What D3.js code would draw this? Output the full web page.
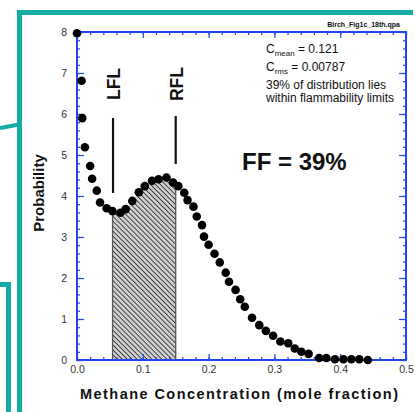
<!DOCTYPE html>
<html>
<head>
<meta charset="utf-8">
<script src="https://cdn.jsdelivr.net/npm/d3@7"></script>
<style>
  body { margin: 0; background: #fff; }
  svg { display: block; font-family: "Liberation Sans", Arial, Helvetica, sans-serif; }
</style>
</head>
<body>
<div id="chart"></div>
<script>
// methane concentration (mole fraction) vs probability
const concentration = [0.000, 0.007, 0.008, 0.012, 0.020, 0.023, 0.030, 0.035, 0.045, 0.054,
    0.066, 0.074, 0.084, 0.094, 0.103, 0.114, 0.124, 0.136, 0.146, 0.154,
    0.163, 0.168, 0.177, 0.182, 0.190, 0.193, 0.200, 0.209, 0.217, 0.226,
    0.231, 0.241, 0.248, 0.255, 0.266, 0.277, 0.287, 0.298, 0.309, 0.321,
    0.331, 0.341, 0.352, 0.368, 0.379, 0.392, 0.405, 0.417, 0.429, 0.442];
const probability = [7.97, 6.81, 5.90, 5.19, 4.73, 4.42, 4.13, 3.84, 3.70, 3.63,
    3.59, 3.68, 3.88, 4.09, 4.24, 4.37, 4.41, 4.45, 4.33, 4.24,
    4.08, 3.90, 3.74, 3.50, 3.29, 3.01, 2.81, 2.59, 2.38, 2.13,
    1.91, 1.71, 1.48, 1.30, 1.03, 0.85, 0.71, 0.59, 0.45, 0.41,
    0.28, 0.20, 0.15, 0.05, 0.05, 0.02, 0.02, 0.02, 0.02, 0.00];

const flammLimits = [0.054, 0.150];   // LFL, RFL
const limitLabels = ["LFL", "RFL"];
const xTicks = [0, 0.1, 0.2, 0.3, 0.4, 0.5];
const yTicks = [0, 1, 2, 3, 4, 5, 6, 7, 8];
const noteLines = ["39% of distribution lies", "within flammability limits"];

const data = concentration.map((c, i) => ({x: c, y: probability[i]}));

const width = 415, height = 412;
const margin = {top: 32, right: 9, bottom: 52, left: 77};
const axisBlue = "#2545ee";
const teal = "#14aaa6";

const svg = d3.select("#chart").append("svg")
    .attr("width", width)
    .attr("height", height);

// teal frame pieces around the figure
svg.append("path")
    .attr("d", "M19.5,412 L19.5,12.5 L413,12.5")
    .attr("fill", "none").attr("stroke", teal).attr("stroke-width", 5);
svg.append("path")
    .attr("d", "M0,128 L19,124.5")
    .attr("fill", "none").attr("stroke", teal).attr("stroke-width", 4);
svg.append("path")
    .attr("d", "M0,284.5 L8.5,284.5 L8.5,412")
    .attr("fill", "none").attr("stroke", teal).attr("stroke-width", 5);

const x = d3.scaleLinear().domain([0, 0.5]).range([margin.left, width - margin.right]);
const y = d3.scaleLinear().domain([0, 8]).range([height - margin.bottom, margin.top]);

// hatch pattern
const defs = svg.append("defs");
const pat = defs.append("pattern")
    .attr("id", "hatch")
    .attr("patternUnits", "userSpaceOnUse")
    .attr("width", 3.5).attr("height", 3.5)
    .attr("patternTransform", "rotate(-45)");
pat.append("rect").attr("width", 3.5).attr("height", 3.5).attr("fill", "#d0d0d0");
pat.append("line")
    .attr("x1", 0).attr("y1", 0).attr("x2", 0).attr("y2", 3.5)
    .attr("stroke", "#222").attr("stroke-width", 1.6);

// shaded region under the curve between the limits
function interp(c) {
    for (let i = 1; i < data.length; i++) {
        if (data[i].x >= c) {
            let a = data[i - 1], b = data[i];
            return a.y + (b.y - a.y) * (c - a.x) / (b.x - a.x);
        }
    }
    return 0;
}
let shade = [{x: flammLimits[0], y: interp(flammLimits[0])}]
    .concat(data.filter(d => d.x > flammLimits[0] && d.x < flammLimits[1]))
    .concat([{x: flammLimits[1], y: interp(flammLimits[1])}]);

svg.append("path")
    .datum(shade)
    .attr("fill", "url(#hatch)")
    .attr("stroke", "none")
    .attr("d", d3.area().x(d => x(d.x)).y0(y(0)).y1(d => y(d.y)));

flammLimits.forEach(c => {
    svg.append("line")
        .attr("x1", x(c)).attr("x2", x(c))
        .attr("y1", y(0)).attr("y2", y(interp(c)))
        .attr("stroke", "#555").attr("stroke-width", 1.3);
});

// axes, ticks pointing inward
const xMinor = d3.range(0, 0.5001, 0.02);
const yMinor = d3.range(0, 8.001, 0.2);

function styleAxis(g) {
    g.select(".domain").remove();
    g.selectAll("line").attr("stroke", axisBlue).attr("stroke-width", 1.2);
    g.selectAll("text").attr("font-size", 10.5).attr("fill", "#333")
        .attr("font-family", "Liberation Sans, Arial, sans-serif");
}

[[d3.axisBottom, y(0)], [d3.axisTop, y(8)]].forEach(([axisFn, ty], i) => {
    svg.append("g").attr("transform", `translate(0,${ty})`)
        .call(axisFn(x).tickValues(xMinor).tickSize(-3).tickFormat(""))
        .call(styleAxis);
    svg.append("g").attr("transform", `translate(0,${ty})`)
        .call(axisFn(x).tickValues(xTicks).tickSize(-6).tickPadding(6)
            .tickFormat(i === 0 ? d3.format(".1f") : ""))
        .call(styleAxis);
});

[[d3.axisLeft, x(0)], [d3.axisRight, x(0.5)]].forEach(([axisFn, tx], i) => {
    svg.append("g").attr("transform", `translate(${tx},0)`)
        .call(axisFn(y).tickValues(yMinor).tickSize(-3).tickFormat(""))
        .call(styleAxis);
    svg.append("g").attr("transform", `translate(${tx},0)`)
        .call(axisFn(y).tickValues(yTicks).tickSize(-7).tickPadding(10)
            .tickFormat(i === 0 ? d3.format("d") : ""))
        .call(styleAxis);
});

svg.append("rect")
    .attr("x", x(0)).attr("y", y(8))
    .attr("width", x(0.5) - x(0)).attr("height", y(0) - y(8))
    .attr("fill", "none").attr("stroke", axisBlue).attr("stroke-width", 2);

// limit markers
flammLimits.forEach((c, i) => {
    let lx = x(c) + (i === 0 ? 0.5 : 0);
    svg.append("line")
        .attr("x1", lx).attr("x2", lx)
        .attr("y1", i === 0 ? 118 : 116).attr("y2", i === 0 ? 193 : 164)
        .attr("stroke", "#111").attr("stroke-width", 2.2);
    svg.append("text")
        .attr("transform", `translate(${lx + 7},84) rotate(-90)`)
        .attr("text-anchor", "middle")
        .attr("font-size", 17.5).attr("font-weight", "bold").attr("fill", "#111")
        .text(limitLabels[i]);
});

// data points
svg.selectAll(".dot")
    .data(data)
    .enter().append("circle")
    .attr("class", "dot")
    .attr("cx", d => x(d.x))
    .attr("cy", d => y(d.y))
    .attr("r", 4.3)
    .attr("fill", "#000");

// annotations
svg.append("text")
    .attr("x", 400).attr("y", 27)
    .attr("text-anchor", "end")
    .attr("font-size", 7).attr("font-weight", "bold").attr("fill", "#111")
    .text("Birch_Fig1c_18th.qpa");

let t1 = svg.append("text").attr("x", 266).attr("y", 53).attr("font-size", 12).attr("fill", "#111");
t1.append("tspan").text("C");
t1.append("tspan").attr("font-size", 8).attr("dy", 3).text("mean");
t1.append("tspan").attr("dy", -3).text(" = 0.121");

let t2 = svg.append("text").attr("x", 266).attr("y", 71).attr("font-size", 12).attr("fill", "#111");
t2.append("tspan").text("C");
t2.append("tspan").attr("font-size", 8).attr("dy", 3).text("rms");
t2.append("tspan").attr("dy", -3).text(" = 0.00787");

noteLines.forEach((s, i) => {
    svg.append("text")
        .attr("x", 266).attr("y", 89 + i * 12.5)
        .attr("font-size", 12).attr("fill", "#111")
        .text(s);
});

svg.append("text")
    .attr("x", 242).attr("y", 170)
    .attr("font-size", 24).attr("font-weight", "bold").attr("fill", "#111")
    .text("FF = 39%");

// axis titles
svg.append("text")
    .attr("x", 80).attr("y", 399)
    .attr("font-size", 14.5).attr("font-weight", "bold").attr("fill", "#111")
    .attr("textLength", 318).attr("lengthAdjust", "spacing")
    .text("Methane Concentration (mole fraction)");

svg.append("text")
    .attr("transform", "translate(44,193) rotate(-90)")
    .attr("text-anchor", "middle")
    .attr("font-size", 15).attr("font-weight", "bold").attr("fill", "#111")
    .text("Probability");
</script>
</body>
</html>
